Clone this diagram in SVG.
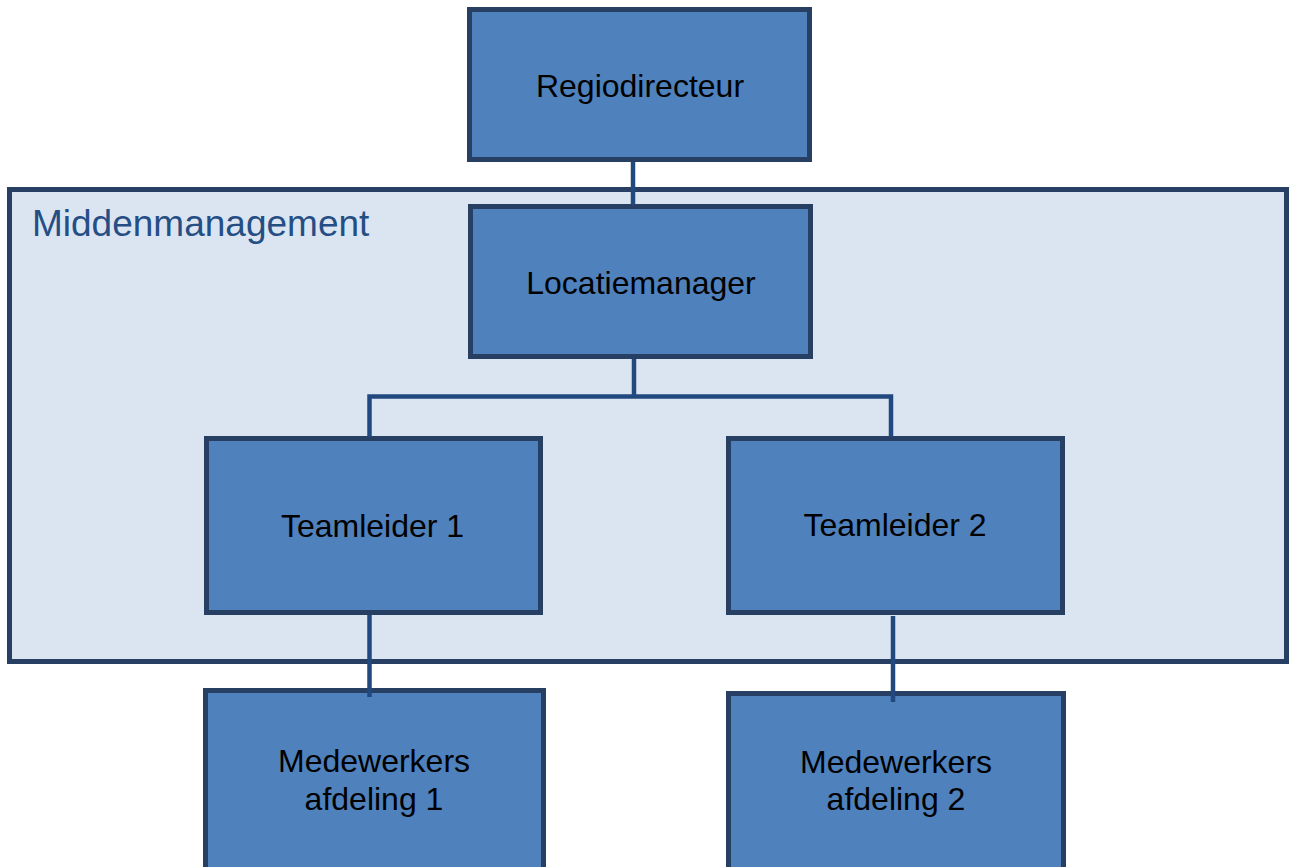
<svg xmlns="http://www.w3.org/2000/svg" width="1289" height="867" viewBox="0 0 1289 867">
<style>
.box{fill:#4F81BD;stroke:#263F62;stroke-width:5}
.lbl{font-family:"Liberation Sans",Arial,sans-serif;font-size:32px;fill:#000;text-anchor:middle}
.con{fill:none;stroke:#22497F;stroke-width:4.5;stroke-linecap:butt;stroke-linejoin:miter}
</style>
<rect width="1289" height="867" fill="#FFFFFF"/>
<g id="middenmanagement">
<rect x="9.5" y="189.5" width="1277" height="472" fill="#DBE5F1" stroke="#263F62" stroke-width="5"/>
<text x="32" y="236" font-family="'Liberation Sans',Arial,sans-serif" font-size="37" fill="#254E85">Middenmanagement</text>
</g>
<g id="regiodirecteur">
<rect class="box" x="469.5" y="9.5" width="340" height="150"/>
<text class="lbl" x="640" y="97">Regiodirecteur</text>
</g>
<g id="locatiemanager">
<rect class="box" x="470.5" y="206.5" width="340" height="150"/>
<text class="lbl" x="641" y="294">Locatiemanager</text>
</g>
<g id="teamleider1">
<rect class="box" x="206.5" y="438.5" width="334" height="174"/>
<text class="lbl" x="372.5" y="537">Teamleider 1</text>
</g>
<g id="teamleider2">
<rect class="box" x="728.5" y="438.5" width="334" height="174"/>
<text class="lbl" x="895" y="536">Teamleider 2</text>
</g>
<g id="medewerkers1">
<rect class="box" x="205.5" y="690.5" width="338" height="200"/>
<text class="lbl" x="374" y="772">Medewerkers</text>
<text class="lbl" x="374" y="810">afdeling 1</text>
</g>
<g id="medewerkers2">
<rect class="box" x="728.5" y="693.5" width="335" height="200"/>
<text class="lbl" x="896" y="773">Medewerkers</text>
<text class="lbl" x="896" y="810">afdeling 2</text>
</g>
<g id="connectors">
<line class="con" x1="633" y1="162" x2="633" y2="205"/>
<line class="con" x1="634" y1="359" x2="634" y2="397"/>
<path class="con" d="M369.5,437 V396.5 H891 V437"/>
<line class="con" x1="369.5" y1="615" x2="369.5" y2="697"/>
<line class="con" x1="893" y1="616" x2="893" y2="702"/>
</g>
</svg>
